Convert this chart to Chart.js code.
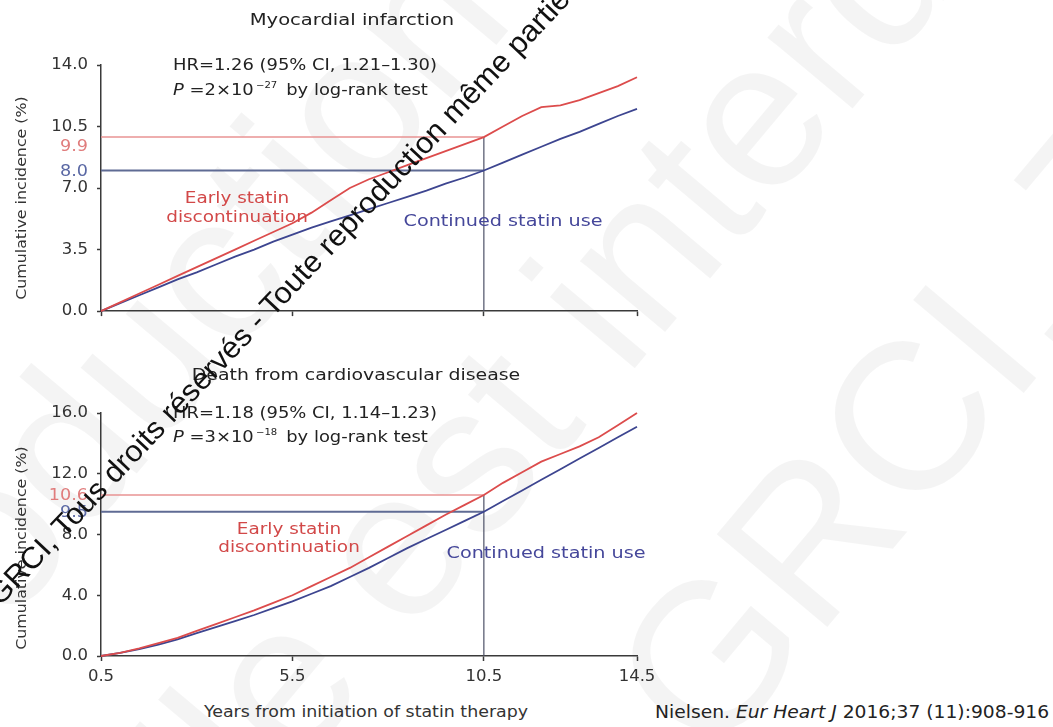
<!DOCTYPE html>
<html>
<head>
<meta charset="utf-8">
<script src="https://cdn.jsdelivr.net/npm/chart.js@4.4.0/dist/chart.umd.min.js"></script>
<style>
  html, body { margin: 0; padding: 0; background: #fff; }
  body { width: 1053px; height: 727px; position: relative; overflow: hidden; font-family: "DejaVu Sans", sans-serif; color: #222; }
  canvas { position: absolute; left: 0; }
  .t { position: absolute; white-space: nowrap; line-height: 1; font-size: 16px; }
  .c { transform: translate(-50%, -50%) scaleX(var(--sx, 1.15)); }
  .l { transform-origin: 0 50%; transform: translateY(-50%) scaleX(var(--sx, 1.15)); }
  .r { transform-origin: 100% 50%; transform: translate(-100%, -50%) scaleX(var(--sx, 1.1)); }
  .ytitle { position: absolute; white-space: nowrap; line-height: 1; font-size: 14px; color: #333; transform: translate(-50%, -50%) rotate(-90deg) scaleX(1.13); }
  sup { font-size: 9px; vertical-align: 7px; margin-left: 2px; margin-right: 8px; }
  .wm { position: absolute; left: 0; top: 0; white-space: nowrap; line-height: 1; font-family: "Liberation Sans", sans-serif; transform-origin: 0 0; }
  .ghost { font-size: 210px; color: rgba(0,0,0,0.042); }
</style>
</head>
<body>

<!-- faint background copyright lettering -->
<div class="wm ghost" data-x="656" data-y="344"><span class="pre">GRCI, Tous droits réservés - Toute reproduction même partielle est i</span>nterdite</div>
<div class="wm ghost" data-x="1012" data-y="408"><span class="pre">GRC</span>I, Tous droits réservés</div>
<div class="wm ghost" data-x="300" data-y="280"><span class="pre">Toute reproduc</span>tion même partielle</div>

<canvas id="mi" width="700" height="330" style="top:0"></canvas>
<canvas id="cvd" width="700" height="336" style="top:360px"></canvas>

<!-- Myocardial infarction panel text -->
<div class="t c" style="left:352px;top:20px;--sx:1.22;">Myocardial infarction</div>
<div class="t l" style="left:173px;top:65px;--sx:1.12;">HR=1.26 (95% CI, 1.21–1.30)</div>
<div class="t l" style="left:173px;top:89px;--sx:1.12;"><i>P</i> =2×10<sup>−27</sup>by log-rank test</div>
<div class="t r" style="left:88px;top:146px;color:#e07c7c;">9.9</div>
<div class="t r" style="left:88px;top:171px;color:#5a68a4;">8.0</div>
<div class="t c" style="left:237px;top:198px;color:#d24848;">Early statin</div>
<div class="t c" style="left:237px;top:217px;color:#d24848;">discontinuation</div>
<div class="t c" style="left:503px;top:221px;color:#45479a;--sx:1.2;">Continued statin use</div>
<div class="ytitle" style="left:21px;top:198px;">Cumulative incidence (%)</div>

<!-- Cardiovascular death panel text -->
<div class="t c" style="left:356px;top:375px;--sx:1.18;">Death from cardiovascular disease</div>
<div class="t l" style="left:173px;top:413px;--sx:1.12;">HR=1.18 (95% CI, 1.14–1.23)</div>
<div class="t l" style="left:173px;top:436px;--sx:1.12;"><i>P</i> =3×10<sup>−18</sup>by log-rank test</div>
<div class="t r" style="left:88px;top:495px;color:#e07c7c;">10.6</div>
<div class="t r" style="left:88px;top:512px;color:#5a68a4;">9.5</div>
<div class="t c" style="left:289px;top:529px;color:#d24848;">Early statin</div>
<div class="t c" style="left:289px;top:547px;color:#d24848;">discontinuation</div>
<div class="t c" style="left:546px;top:553px;color:#45479a;--sx:1.2;">Continued statin use</div>
<div class="ytitle" style="left:21px;top:548px;">Cumulative incidence (%)</div>

<div class="t c" style="left:366px;top:712px;font-size:15px;color:#333;--sx:1.16;">Years from initiation of statin therapy</div>
<div class="t l" style="left:655px;top:712px;font-size:17px;color:#222;--sx:1.1;">Nielsen. <i>Eur Heart J</i> 2016;37 (11):908-916</div>

<!-- diagonal copyright line -->
<div class="wm" style="font-size:30px;color:#111;transform:translate(0px,607px) rotate(-46.7deg) scaleX(1.03) translateY(-25px);">GRCI, Tous droits réservés - Toute reproduction même partielle est interdite</div>

<script>
// years since initiation of statin therapy
const years = [0.5, 1.0, 1.5, 2.0, 2.5, 3.0, 3.5, 4.0, 4.5, 5.0, 5.5, 6.0, 6.5, 7.0, 7.5,
               8.0, 8.5, 9.0, 9.5, 10.0, 10.5, 11.0, 11.5, 12.0, 12.5, 13.0, 13.5, 14.0, 14.5];

// myocardial infarction, cumulative incidence (%)
const miEarly     = [0, 0.5, 1.0, 1.5, 2.0, 2.5, 3.0, 3.5, 4.0, 4.5, 5.0, 5.6, 6.3, 7.0, 7.5,
                     7.9, 8.3, 8.7, 9.1, 9.5, 9.9, 10.5, 11.1, 11.6, 11.7, 12.0, 12.4, 12.8, 13.3];
const miContinued = [0, 0.45, 0.9, 1.35, 1.8, 2.2, 2.65, 3.1, 3.5, 3.95, 4.35, 4.75, 5.1, 5.45, 5.8,
                     6.15, 6.5, 6.85, 7.25, 7.6, 8.0, 8.45, 8.9, 9.35, 9.8, 10.2, 10.65, 11.1, 11.5];

// death from cardiovascular disease, cumulative incidence (%)
const cvdEarly     = [0, 0.2, 0.5, 0.85, 1.2, 1.65, 2.1, 2.55, 3.0, 3.5, 4.0, 4.6, 5.2, 5.8, 6.5,
                      7.2, 7.9, 8.6, 9.3, 9.95, 10.6, 11.4, 12.1, 12.8, 13.3, 13.8, 14.4, 15.2, 16.0];
const cvdContinued = [0, 0.2, 0.45, 0.75, 1.1, 1.5, 1.9, 2.3, 2.7, 3.15, 3.6, 4.1, 4.6, 5.2, 5.8,
                      6.45, 7.1, 7.7, 8.3, 8.9, 9.5, 10.2, 10.9, 11.6, 12.3, 13.0, 13.7, 14.4, 15.1];

// axis ticks
const xTicks = [0.5, 5.5, 10.5, 14.5];
const miYTicks = [0, 3.5, 7.0, 10.5, 14.0];
const cvdYTicks = [0, 4, 8, 12, 16];

// 10-year read-offs
const landmarkYear = 10.5;
const miAt10 = { early: 9.9, continued: 8.0 };
const cvdAt10 = { early: 10.6, continued: 9.5 };

const RED = '#dc4c4c';
const BLUE = '#3d4590';
const AXIS = '#3a3a3a';

const pts = (xs, ys) => xs.map((x, i) => ({ x, y: ys[i] }));

function line(data, color, width, order) {
  return { data, borderColor: color, borderWidth: width, pointRadius: 0, tension: 0, fill: false, order, clip: false };
}

function panel(id, early, continued, at10, yTicks, yMax, padTop, showXLabels, xHeight) {
  const datasets = [
    line(pts(years, early), RED, 1.8, 1),
    line(pts(years, continued), BLUE, 1.8, 2),
    line([{ x: years[0], y: at10.early }, { x: landmarkYear, y: at10.early }], '#e99393', 1.4, 4),
    line([{ x: years[0], y: at10.continued }, { x: landmarkYear, y: at10.continued }], '#5f6b94', 2, 4),
    line([{ x: landmarkYear, y: 0 }, { x: landmarkYear, y: at10.early }], '#4e5268', 1.2, 3)
  ];
  return new Chart(document.getElementById(id), {
    type: 'line',
    data: { datasets },
    options: {
      responsive: false,
      devicePixelRatio: 1,
      animation: false,
      events: [],
      layout: { padding: { left: 0, right: 63, top: padTop, bottom: 0 } },
      plugins: { legend: { display: false }, tooltip: { enabled: false }, title: { display: false } },
      scales: {
        x: {
          type: 'linear', min: 0.5, max: 14.5,
          afterBuildTicks: s => { s.ticks = xTicks.map(v => ({ value: v })); },
          afterFit: s => { s.height = xHeight; },
          border: { display: true, color: AXIS, width: 1.5 },
          grid: { drawOnChartArea: false, drawTicks: true, tickLength: 5, tickWidth: 1.5, tickColor: AXIS },
          ticks: { display: showXLabels, autoSkip: false, maxRotation: 0, padding: 6, color: '#333',
                   font: { family: 'DejaVu Sans', size: 16.5 }, callback: v => v.toFixed(1) }
        },
        y: {
          type: 'linear', min: 0, max: yMax,
          afterBuildTicks: s => { s.ticks = yTicks.map(v => ({ value: v })); },
          afterFit: s => { s.width = 101; },
          border: { display: true, color: AXIS, width: 1.5 },
          grid: { drawOnChartArea: false, drawTicks: true, tickLength: 4, tickWidth: 1.5, tickColor: AXIS },
          ticks: { autoSkip: false, padding: 9, color: '#333',
                   font: { family: 'DejaVu Sans', size: 16.5 }, callback: v => v.toFixed(1) }
        }
      }
    }
  });
}

panel('mi', miEarly, miContinued, miAt10, miYTicks, 14, 65, false, 14);
panel('cvd', cvdEarly, cvdContinued, cvdAt10, cvdYTicks, 16, 53, true, 40);

// set the faint copyright lettering along its slanted baseline
document.querySelectorAll('.ghost').forEach(el => {
  const pre = el.querySelector('.pre').offsetWidth;
  const fs = parseFloat(getComputedStyle(el).fontSize);
  const x = +el.dataset.x, y = +el.dataset.y;
  el.style.transform = `translate(${x}px,${y}px) rotate(-50deg) translate(${-pre}px,${-0.846 * fs}px)`;
});
</script>
</body>
</html>
